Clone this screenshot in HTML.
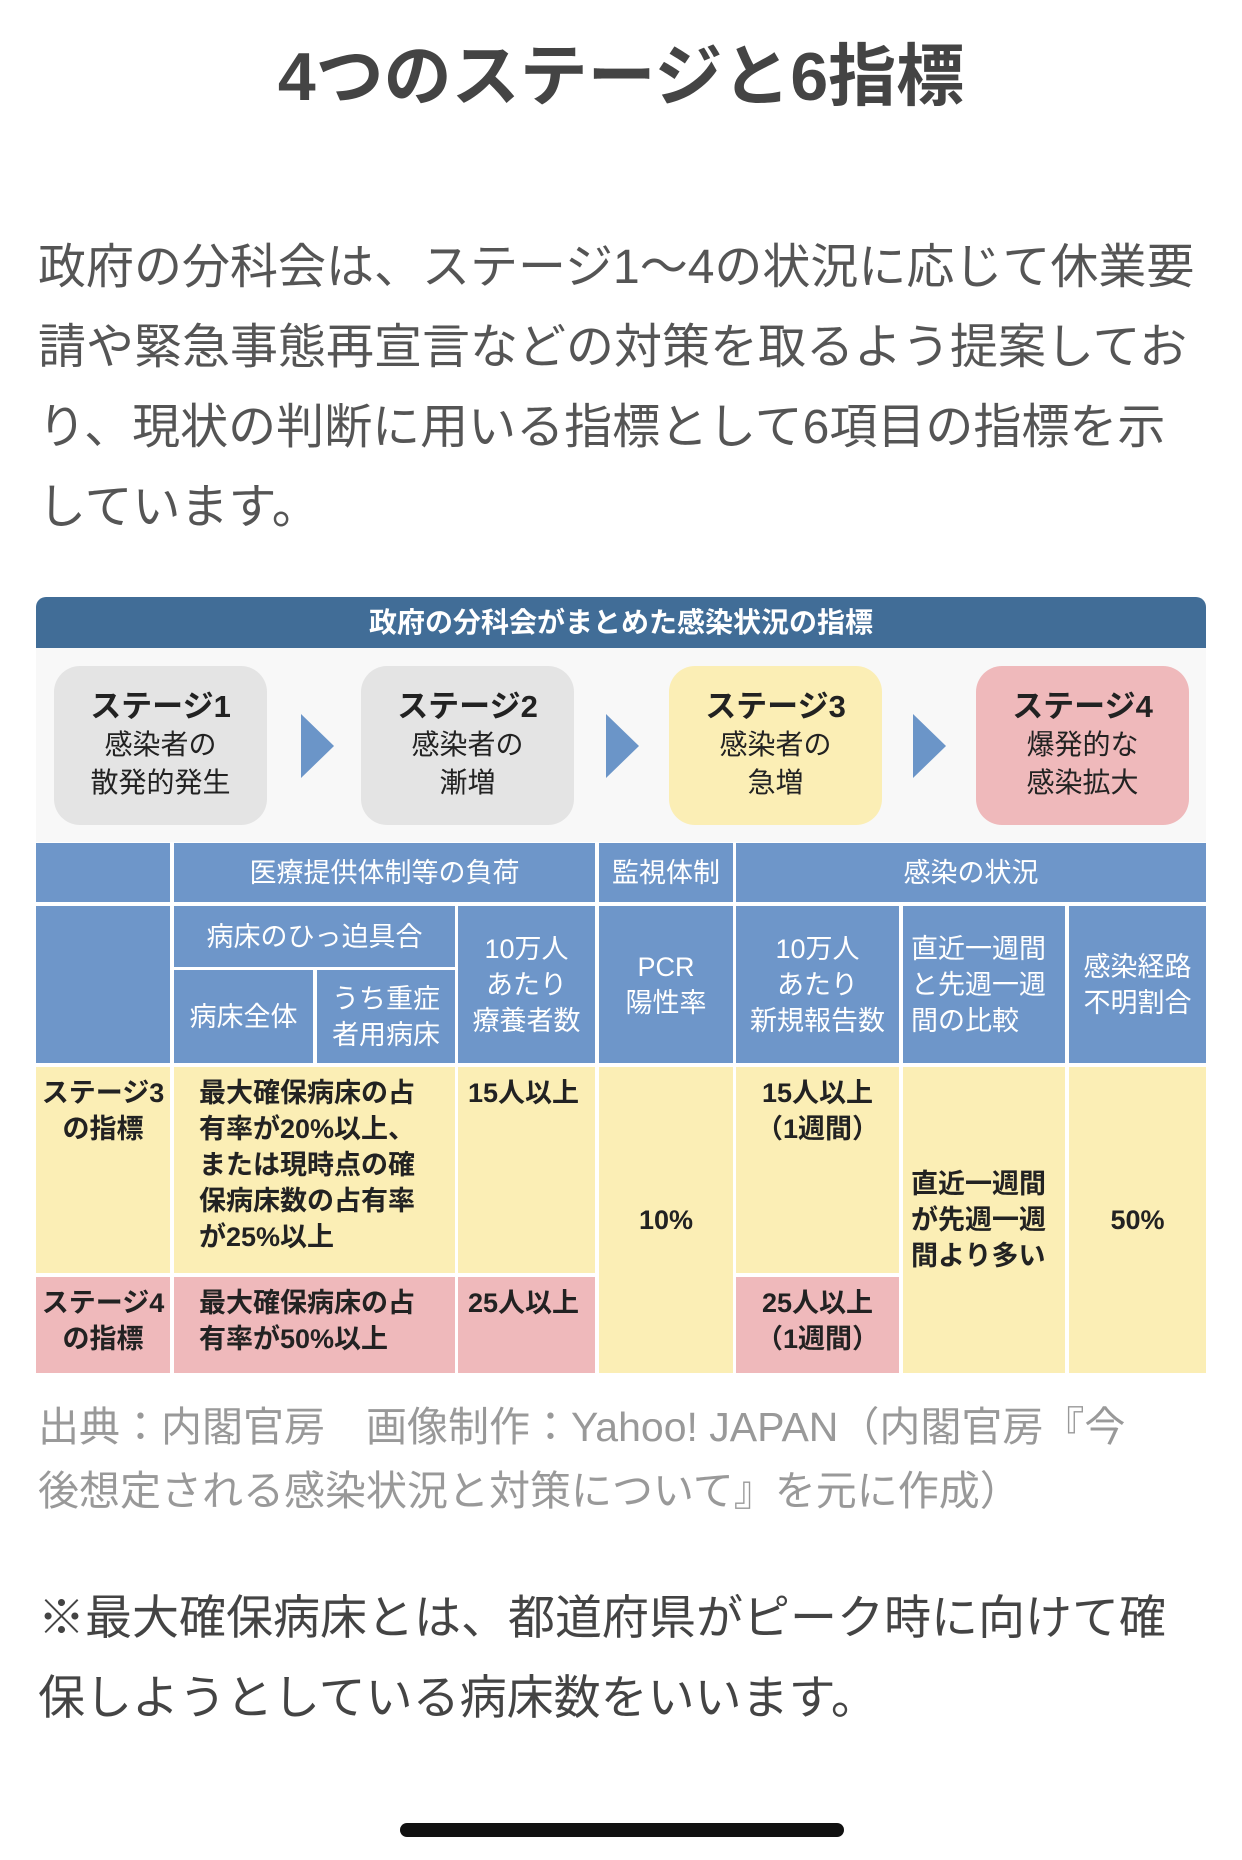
<!DOCTYPE html>
<html><head><meta charset="utf-8">
<style>
*{margin:0;padding:0;box-sizing:border-box}
body{width:1242px;height:1860px;background:#fff;position:relative;overflow:hidden;font-family:"Liberation Sans","Noto Sans CJK JP",sans-serif}
.a{position:absolute}
.title{left:0;width:1242px;top:37px;text-align:center;font-size:68px;font-weight:bold;color:#444;line-height:80px}
.p{left:38px;width:1190px;font-size:48px;color:#555;line-height:80px;top:228px}
.hdr{left:36px;top:597px;width:1170px;height:51px;background:#416d97;border-radius:10px 10px 0 0;color:#fff;font-weight:bold;font-size:28px;text-align:center;line-height:51px}
.sarea{left:36px;top:648px;width:1170px;height:194px;background:#f8f8f8}
.st{top:666px;width:213px;height:159px;border-radius:26px;text-align:center;color:#222;font-size:28px;line-height:38px;padding-top:22px}
.st b{font-size:31px;display:block}
.arr{top:714px;width:0;height:0;border-top:32px solid transparent;border-bottom:32px solid transparent;border-left:33px solid #6b95c8}
.c{position:absolute;background:#6e96c9;color:#fff;font-size:27px;line-height:36px;display:flex;align-items:center;justify-content:center;text-align:center}
.y{background:#fbeeb5;color:#222;font-weight:bold;align-items:flex-start;justify-content:flex-start;text-align:left;padding:8px 0 0 14px}
.pk{background:#efb9bb;color:#222;font-weight:bold;align-items:flex-start;justify-content:flex-start;text-align:left;padding:8px 0 0 14px}
.src{left:38px;top:1395px;width:1190px;font-size:41px;color:#999;line-height:64px}
.note{left:38px;top:1578px;width:1190px;font-size:47px;color:#444;line-height:80px}
.bar{left:400px;top:1823px;width:444px;height:14px;background:#111;border-radius:7px}
</style></head><body>
<div class="a title">4つのステージと6指標</div>
<div class="a p">政府の分科会は、ステージ1～4の状況に応じて休業要<br>請や緊急事態再宣言などの対策を取るよう提案してお<br>り、現状の判断に用いる指標として6項目の指標を示<br>しています。</div>

<div class="a hdr">政府の分科会がまとめた感染状況の指標</div>
<div class="a sarea"></div>
<div class="a st" style="left:54px;background:#e4e4e4"><b>ステージ1</b>感染者の<br>散発的発生</div>
<div class="a arr" style="left:301px"></div>
<div class="a st" style="left:361px;background:#e4e4e4"><b>ステージ2</b>感染者の<br>漸増</div>
<div class="a arr" style="left:606px"></div>
<div class="a st" style="left:669px;background:#fbeeb5"><b>ステージ3</b>感染者の<br>急増</div>
<div class="a arr" style="left:913px"></div>
<div class="a st" style="left:976px;background:#efb9bb"><b>ステージ4</b>爆発的な<br>感染拡大</div>

<div class="c" style="left:36px;top:843px;width:134px;height:59px"></div>
<div class="c" style="left:174px;top:843px;width:421px;height:59px">医療提供体制等の負荷</div>
<div class="c" style="left:599px;top:843px;width:134px;height:59px">監視体制</div>
<div class="c" style="left:736px;top:843px;width:470px;height:59px">感染の状況</div>

<div class="c" style="left:36px;top:906px;width:134px;height:157px"></div>
<div class="c" style="left:174px;top:906px;width:281px;height:61px">病床のひっ迫具合</div>
<div class="c" style="left:174px;top:970px;width:139px;height:93px">病床全体</div>
<div class="c" style="left:317px;top:970px;width:138px;height:93px">うち重症<br>者用病床</div>
<div class="c" style="left:458px;top:906px;width:137px;height:157px">10万人<br>あたり<br>療養者数</div>
<div class="c" style="left:599px;top:906px;width:134px;height:157px">PCR<br>陽性率</div>
<div class="c" style="left:736px;top:906px;width:163px;height:157px">10万人<br>あたり<br>新規報告数</div>
<div class="c" style="left:903px;top:906px;width:162px;height:157px;justify-content:flex-start;text-align:left;padding-left:8px">直近一週間<br>と先週一週<br>間の比較</div>
<div class="c" style="left:1069px;top:906px;width:137px;height:157px">感染経路<br>不明割合</div>

<div class="c y" style="left:36px;top:1067px;width:134px;height:206px;justify-content:center;text-align:center;padding-left:0">ステージ3<br>の指標</div>
<div class="c y" style="left:174px;top:1067px;width:281px;height:206px;padding-left:25px">最大確保病床の占<br>有率が20%以上、<br>または現時点の確<br>保病床数の占有率<br>が25%以上</div>
<div class="c y" style="left:458px;top:1067px;width:137px;height:206px;padding-left:10px">15人以上</div>
<div class="c y" style="left:599px;top:1067px;width:134px;height:306px;align-items:center;justify-content:center;padding:0">10%</div>
<div class="c y" style="left:736px;top:1067px;width:163px;height:206px;justify-content:center;text-align:center;padding-left:0">15人以上<br>（1週間）</div>
<div class="c y" style="left:903px;top:1067px;width:162px;height:306px;align-items:center;padding:0 0 0 8px">直近一週間<br>が先週一週<br>間より多い</div>
<div class="c y" style="left:1069px;top:1067px;width:137px;height:306px;align-items:center;justify-content:center;padding:0">50%</div>

<div class="c pk" style="left:36px;top:1277px;width:134px;height:96px;justify-content:center;text-align:center;padding-left:0">ステージ4<br>の指標</div>
<div class="c pk" style="left:174px;top:1277px;width:281px;height:96px;padding-left:25px">最大確保病床の占<br>有率が50%以上</div>
<div class="c pk" style="left:458px;top:1277px;width:137px;height:96px;padding-left:10px">25人以上</div>
<div class="c pk" style="left:736px;top:1277px;width:163px;height:96px;justify-content:center;text-align:center;padding-left:0">25人以上<br>（1週間）</div>

<div class="a src">出典：内閣官房　画像制作：Yahoo! JAPAN（内閣官房『今<br>後想定される感染状況と対策について』を元に作成）</div>
<div class="a note">※最大確保病床とは、都道府県がピーク時に向けて確<br>保しようとしている病床数をいいます。</div>
<div class="a bar"></div>
</body></html>
